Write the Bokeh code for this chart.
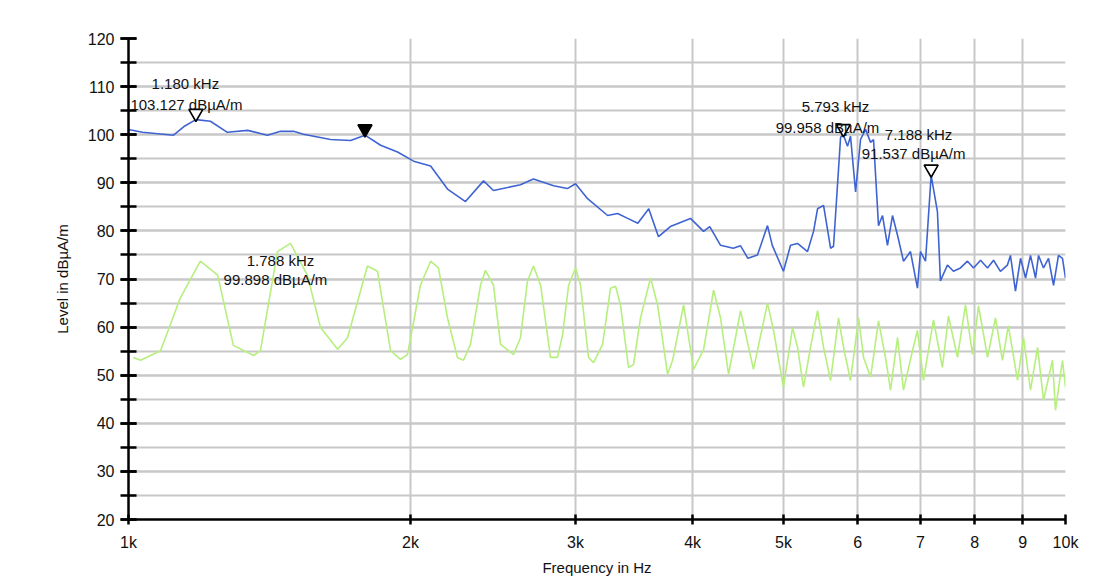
import numpy as np
from bokeh.plotting import figure
from bokeh.models import FixedTicker, SingleIntervalTicker, ColumnDataSource, Range1d, LabelSet
from bokeh.core.properties import value
from bokeh.embed import file_html
from bokeh.resources import INLINE

# ---------------- data ----------------
blue_freq_khz = [1.000, 1.035, 1.117, 1.146, 1.180, 1.223, 1.275, 1.340, 1.407, 1.453, 1.500, 1.537,
                 1.643, 1.726, 1.788, 1.858, 1.937, 2.015, 2.101, 2.190, 2.289, 2.393, 2.452, 2.620,
                 2.705, 2.843, 2.940, 3.000, 3.090, 3.246, 3.327, 3.410, 3.496, 3.591, 3.678, 3.787,
                 3.979, 4.109, 4.172, 4.284, 4.420, 4.500, 4.582, 4.691, 4.808, 4.865, 5.000, 5.088,
                 5.176, 5.305, 5.384, 5.437, 5.518, 5.614, 5.655, 5.754, 5.793, 5.853, 5.896, 5.970,
                 6.043, 6.118, 6.194, 6.239, 6.316, 6.378, 6.457, 6.537, 6.618, 6.716, 6.832, 6.950,
                 7.002, 7.089, 7.188, 7.300, 7.354, 7.482, 7.593, 7.725, 7.860, 7.977, 8.116, 8.256,
                 8.379, 8.522, 8.670, 8.735, 8.843, 8.954, 9.065, 9.176, 9.290, 9.359, 9.474, 9.592,
                 9.710, 9.829, 9.926, 10.000]
blue_level = [101.1, 100.5, 99.9, 101.7, 103.13, 102.8, 100.5, 100.9, 99.9, 100.7, 100.7, 100.1,
              99.0, 98.8, 99.9, 97.8, 96.4, 94.5, 93.5, 88.7, 86.1, 90.4, 88.4, 89.6,
              90.8, 89.4, 88.8, 89.8, 86.7, 83.2, 83.6, 82.6, 81.6, 84.6, 78.8, 80.9,
              82.6, 79.9, 80.9, 77.0, 76.4, 76.9, 74.3, 75.0, 81.1, 77.0, 71.6, 77.0,
              77.4, 75.7, 79.9, 84.6, 85.3, 76.4, 76.8, 99.5, 99.96, 97.6, 99.7, 88.1,
              99.0, 101.1, 98.4, 99.0, 81.1, 83.2, 77.0, 83.2, 79.1, 73.7, 75.7, 68.1,
              75.7, 73.7, 91.54, 84.0, 69.6, 72.9, 71.6, 72.3, 73.7, 72.3, 73.9, 72.3,
              73.9, 71.6, 72.9, 74.9, 67.5, 74.3, 70.2, 74.9, 70.2, 74.9, 72.3, 74.3,
              68.7, 74.9, 74.3, 70.2]

green_freq_khz = [1.012, 1.030, 1.082, 1.136, 1.193, 1.245, 1.294, 1.360, 1.383, 1.442, 1.489, 1.552,
                  1.603, 1.672, 1.713, 1.799, 1.844, 1.904, 1.951, 1.985, 2.049, 2.101, 2.142, 2.190,
                  2.244, 2.278, 2.317, 2.375, 2.404, 2.452, 2.495, 2.576, 2.620, 2.666, 2.705, 2.753,
                  2.821, 2.870, 2.906, 2.949, 3.000, 3.037, 3.097, 3.136, 3.206, 3.269, 3.310, 3.350,
                  3.417, 3.459, 3.519, 3.607, 3.670, 3.761, 3.808, 3.912, 4.009, 4.109, 4.211, 4.284,
                  4.369, 4.500, 4.645, 4.808, 4.880, 5.000, 5.113, 5.176, 5.253, 5.344, 5.437, 5.518,
                  5.614, 5.725, 5.796, 5.896, 6.014, 6.088, 6.194, 6.316, 6.425, 6.505, 6.618, 6.716,
                  6.866, 6.950, 7.054, 7.229, 7.390, 7.500, 7.668, 7.821, 7.957, 8.076, 8.256, 8.419,
                  8.564, 8.690, 8.888, 9.020, 9.176, 9.336, 9.474, 9.685, 9.757, 9.926, 10.000]
green_level = [53.7, 53.1, 55.1, 66.1, 73.7, 70.8, 56.2, 54.1, 55.1, 75.7, 77.4, 70.8,
               59.9, 55.4, 57.8, 72.7, 71.6, 55.1, 53.3, 54.3, 68.7, 73.7, 72.3, 61.9,
               53.7, 53.1, 56.4, 68.7, 71.8, 68.7, 56.4, 54.3, 57.8, 69.6, 72.7, 68.7,
               53.7, 53.7, 58.4, 68.7, 72.3, 68.7, 53.7, 52.6, 56.4, 68.1, 68.5, 64.6,
               51.6, 52.2, 61.9, 70.2, 64.6, 50.2, 53.1, 64.6, 51.2, 55.3, 67.7, 61.9,
               50.2, 63.4, 51.2, 65.0, 59.3, 47.5, 59.9, 55.8, 47.5, 55.8, 63.4, 55.8,
               48.9, 61.9, 55.8, 48.9, 61.9, 53.7, 49.6, 61.3, 53.7, 46.9, 57.8, 46.9,
               55.1, 59.3, 48.9, 61.5, 51.6, 62.3, 53.7, 64.6, 54.3, 64.4, 53.7, 61.9,
               53.1, 60.3, 48.9, 57.8, 46.9, 55.8, 44.8, 53.1, 42.7, 53.1, 47.5]

marker_freq_khz = [1.180, 1.788, 5.793, 7.188]
marker_level = [103.127, 99.898, 99.958, 91.537]
marker_filled = [False, True, False, False]
marker_freq_text = ["1.180 kHz", "1.788 kHz", "5.793 kHz", "7.188 kHz"]
marker_level_text = ["103.127 dBµA/m", "99.898 dBµA/m", "99.958 dBµA/m", "91.537 dBµA/m"]

x_ticks_hz = [1000, 2000, 3000, 4000, 5000, 6000, 7000, 8000, 9000, 10000]
x_tick_labels = ["1k", "2k", "3k", "4k", "5k", "6", "7", "8", "9", "10k"]

# label anchor positions (layout, not data)
label_pos_khz = [(1.150, 1.153), (1.453, 1.435), (5.683, 5.572), (6.970, 6.885)]
label_pos_lvl = [(110.6, 106.3), (73.9, 70.0), (105.8, 101.5), (100.1, 96.0)]

FONT = "Liberation Sans"

p = figure(width=1095, height=578, x_axis_type="log",
           x_range=Range1d(1000, 10000), y_range=Range1d(20, 120),
           output_backend="svg", toolbar_location=None,
           min_border_left=128, min_border_right=30, min_border_top=38, min_border_bottom=50)
p.background_fill_color = "white"
p.border_fill_color = "white"
p.outline_line_color = None

# axes
p.xaxis.ticker = FixedTicker(ticks=x_ticks_hz, minor_ticks=[])
p.xaxis.major_label_overrides = {t: l for t, l in zip(x_ticks_hz, x_tick_labels)}
p.yaxis.ticker = SingleIntervalTicker(interval=10, num_minor_ticks=2)
for ax in (p.xaxis[0], p.yaxis[0]):
    ax.axis_line_color = "black"
    ax.axis_line_width = 2.5
    ax.major_tick_line_color = "black"
    ax.major_tick_line_width = 2.5
    ax.major_label_text_font = FONT
    ax.major_label_text_font_size = "16px"
    ax.major_label_text_color = "#111111"
    ax.axis_label_text_font = FONT
    ax.axis_label_text_font_size = "15px"
    ax.axis_label_text_font_style = "normal"
    ax.axis_label_text_color = "#111111"
p.yaxis.major_tick_in = 8
p.yaxis.major_tick_out = 8
p.yaxis.minor_tick_in = 8
p.yaxis.minor_tick_out = 8
p.yaxis.minor_tick_line_color = "black"
p.yaxis.minor_tick_line_width = 2.5
p.yaxis.major_label_standoff = 6
p.yaxis.axis_label = "Level in dBµA/m"
p.yaxis.axis_label_standoff = 14
p.xaxis.major_tick_in = 5
p.xaxis.major_tick_out = 5
p.xaxis.minor_tick_line_color = None
p.xaxis.major_label_standoff = 9
p.xaxis.axis_label = "Frequency in Hz"
p.xaxis.axis_label_standoff = 5

# grids
p.xgrid.grid_line_color = "#c8c8c8"
p.xgrid.grid_line_width = 2
p.ygrid.grid_line_color = "#c8c8c8"
p.ygrid.grid_line_width = 2
p.ygrid.minor_grid_line_color = "#c8c8c8"
p.ygrid.minor_grid_line_width = 2

# traces
p.line(np.array(green_freq_khz) * 1000, green_level, line_color="#b6ef7e", line_width=1.6)
p.line(np.array(blue_freq_khz) * 1000, blue_level, line_color="#3f64d2", line_width=1.6)

# markers (tip sits on the trace)
mf = np.array(marker_freq_khz) * 1000
ml = np.array(marker_level) + 1.3
fills = ["black" if f else "white" for f in marker_filled]
p.scatter(mf, ml, marker="inverted_triangle", size=14, fill_color=fills,
          line_color="black", line_width=1.6)

# marker labels (annotations)
lab = ColumnDataSource(dict(
    fx=[a * 1000 for a, b in label_pos_khz], fy=[a for a, b in label_pos_lvl],
    lx=[b * 1000 for a, b in label_pos_khz], ly=[b for a, b in label_pos_lvl],
    ft=marker_freq_text, lt=marker_level_text))
for xs, ys, ts in (("fx", "fy", "ft"), ("lx", "ly", "lt")):
    p.add_layout(LabelSet(x=xs, y=ys, text=ts, source=lab, text_align="center",
                          text_baseline="middle", text_font=value(FONT),
                          text_font_size=value("15px"), text_color="#111111"))

open("out.html", "w").write(file_html(p, INLINE))
